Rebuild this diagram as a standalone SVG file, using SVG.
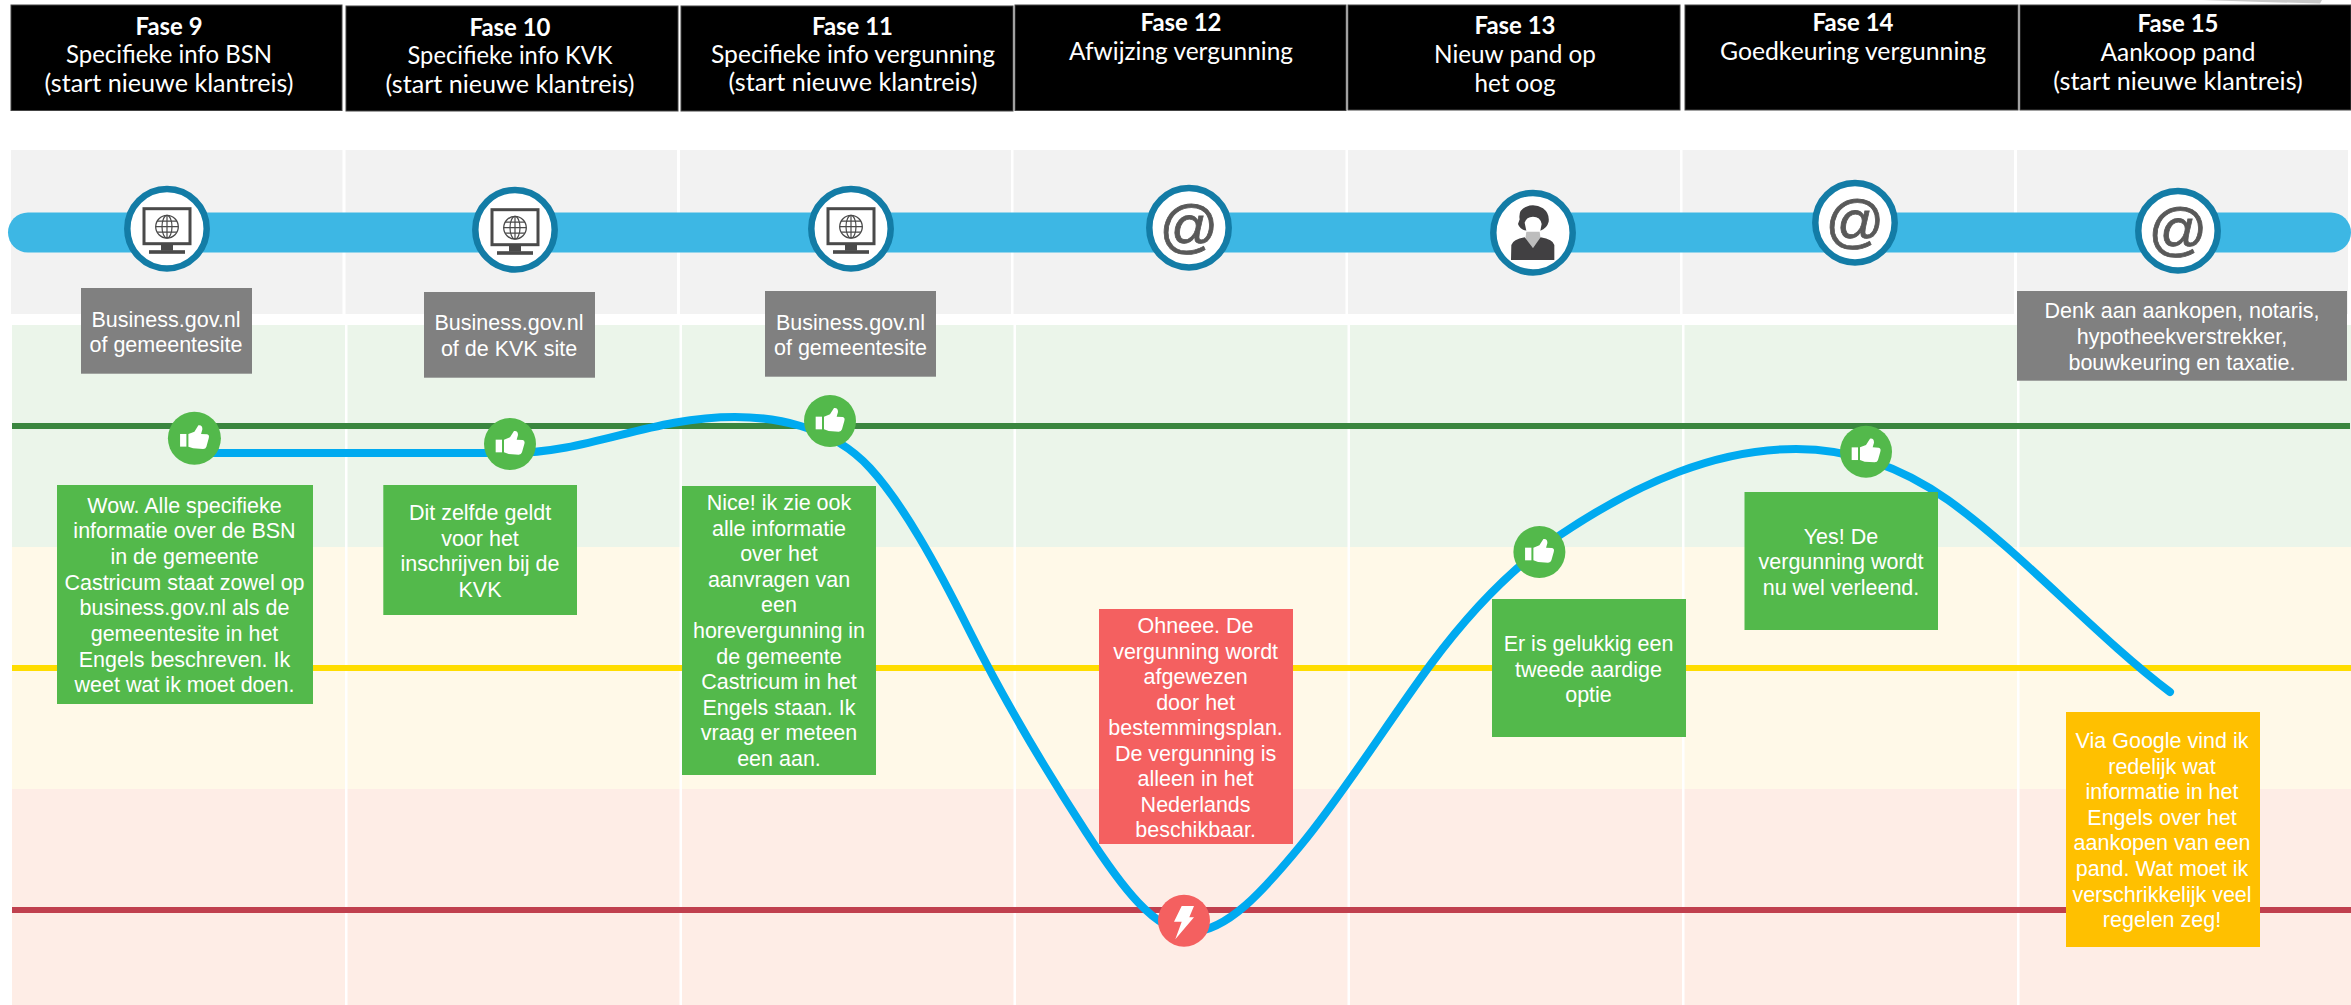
<svg xmlns="http://www.w3.org/2000/svg" xmlns:xlink="http://www.w3.org/1999/xlink" width="2351" height="1005" viewBox="0 0 2351 1005">
<style>
.hd{fill:#000;stroke:#444;stroke-width:1}
.ht{font-family:Lato,"Open Sans","Liberation Sans",sans-serif;font-size:24.5px;fill:#fff;text-anchor:middle}
.hb{font-weight:700}
.bt{font-family:"Liberation Sans",Arial,sans-serif;font-size:21.5px;fill:#fff;text-anchor:middle}
.at{font-family:"Liberation Sans",Arial,sans-serif;font-size:58px;fill:#595959;stroke:#595959;stroke-width:.8;text-anchor:middle}
.ring{fill:#fff;stroke:#137CA6;stroke-width:6.5}
.gb{fill:#808080}.gn{fill:#53B94B}.rd{fill:#F46060}.or{fill:#FFC000}
.div{fill:#fff}
</style>
<defs>
<g id="monitor">
<rect x="-23" y="-20" width="46" height="35" fill="#fff" stroke="#4A4A4A" stroke-width="3"/>
<circle cx="0" cy="-2" r="11.3" fill="none" stroke="#4A4A4A" stroke-width="1.3"/>
<ellipse cx="0" cy="-2" rx="5" ry="11.3" fill="none" stroke="#4A4A4A" stroke-width="1.2"/>
<path d="M0 -13.3V9.3M-11.3 -2H11.3M-9.8 -7.5H9.8M-9.8 3.5H9.8" fill="none" stroke="#4A4A4A" stroke-width="1.2"/>
<rect x="-6" y="16" width="12" height="6" fill="#4A4A4A"/>
<rect x="-18" y="21.5" width="36" height="3.6" fill="#4A4A4A"/>
</g>
<g id="thumb" transform="scale(.3333) translate(-134,-115)">
<rect x="91" y="102" width="19" height="38" fill="#fff"/>
<path d="M116 102L134 95L146 76Q158 74 158 88L154 102L172 103Q180 105 177 115L170 140Q168 147 160 147L130 145L116 140Z" fill="#fff"/>
</g>
</defs>

<g id="background">
<rect x="11" y="150" width="2337" height="164" fill="#F2F2F2"/>
<rect x="12" y="325" width="2339" height="222" fill="#EBF5EA"/>
<rect x="12" y="547" width="2339" height="242" fill="#FFF9E8"/>
<rect x="12" y="789" width="2339" height="216" fill="#FEEDE6"/>
<g class="div">
<rect x="342.500" y="150" width="3" height="164"/><rect x="677" y="150" width="3" height="164"/><rect x="1011" y="150" width="2.500" height="164"/><rect x="1345.500" y="150" width="2.500" height="164"/><rect x="1680" y="150" width="2.500" height="164"/><rect x="2014" y="150" width="3" height="164"/>
<rect x="345" y="325" width="2.500" height="680"/><rect x="679.500" y="325" width="2.500" height="680"/><rect x="1013.500" y="325" width="2.500" height="680"/><rect x="1347.500" y="325" width="2.500" height="680"/><rect x="1682" y="325" width="2.500" height="680"/><rect x="2017" y="325" width="2.500" height="680"/>
</g>
<path d="M2202 0L2322 0L2320 3.500L2262 2Z" fill="#C8C8C8"/>
<rect x="8" y="212.500" width="2343" height="40" rx="20" fill="#3DB7E4"/>
<rect x="12" y="423" width="2338" height="6" fill="#3A863F"/>
<rect x="12" y="665" width="2339" height="6" fill="#FFDD00"/>
<rect x="12" y="907" width="2339" height="6" fill="#C0404E"/>
</g>

<g id="connectors">
<path d="M195 453L510 453C590 453 650 417 735 417C770 417 830 424 870 468C903 504 936 564 969 630C1008 708 1047 772 1086 832C1121 886 1155 932 1190 932C1227 932 1264 890 1301 845C1344 793 1388 722 1431 664C1474 606 1517 564 1560 535C1639 482 1717 449 1796 449C1847 449 1897 464 1948 500C2022 553 2096 636 2170 692" fill="none" stroke="#00AAF0" stroke-width="8" stroke-linecap="round"/>
</g>

<g id="fase-9">
<rect class="hd" x="11" y="5" width="331" height="105.500"/>
<text class="ht hb" x="169" y="35" textLength="67" lengthAdjust="spacingAndGlyphs">Fase 9</text>
<text class="ht" x="169" y="63" textLength="206" lengthAdjust="spacingAndGlyphs">Specifieke info BSN</text>
<text class="ht" x="169" y="92" textLength="249" lengthAdjust="spacingAndGlyphs">(start nieuwe klantreis)</text>
<circle class="ring" cx="167" cy="228.700" r="39.700"/>
<use xlink:href="#monitor" href="#monitor" x="167" y="228.700"/>
<rect class="gb" x="81" y="288" width="171" height="85.700"/>
<text class="bt" x="166" y="327">Business.gov.nl</text>
<text class="bt" x="166" y="352">of gemeentesite</text>
<circle class="gn" cx="194.400" cy="438.300" r="26.500"/>
<use xlink:href="#thumb" href="#thumb" x="194.400" y="438.300"/>
<rect class="gn" x="57" y="485" width="256" height="219"/>
<text class="bt" x="184.500" y="512.600">Wow. Alle specifieke</text>
<text class="bt" x="184.500" y="538.300">informatie over de BSN</text>
<text class="bt" x="184.500" y="564">in de gemeente</text>
<text class="bt" x="184.500" y="589.700">Castricum staat zowel op</text>
<text class="bt" x="184.500" y="615.400">business.gov.nl als de</text>
<text class="bt" x="184.500" y="641">gemeentesite in het</text>
<text class="bt" x="184.500" y="666.700">Engels beschreven. Ik</text>
<text class="bt" x="184.500" y="692.400">weet wat ik moet doen.</text>
</g>

<g id="fase-10">
<rect class="hd" x="346" y="6" width="332" height="105"/>
<text class="ht hb" x="510" y="36" textLength="81" lengthAdjust="spacingAndGlyphs">Fase 10</text>
<text class="ht" x="510" y="64" textLength="205" lengthAdjust="spacingAndGlyphs">Specifieke info KVK</text>
<text class="ht" x="510" y="93" textLength="249" lengthAdjust="spacingAndGlyphs">(start nieuwe klantreis)</text>
<circle class="ring" cx="515" cy="229.700" r="39.700"/>
<use xlink:href="#monitor" href="#monitor" x="515" y="229.700"/>
<rect class="gb" x="424" y="292" width="171" height="85.700"/>
<text class="bt" x="509" y="330">Business.gov.nl</text>
<text class="bt" x="509" y="356">of de KVK site</text>
<circle class="gn" cx="510" cy="444" r="26"/>
<use xlink:href="#thumb" href="#thumb" x="510" y="444"/>
<rect class="gn" x="383.300" y="485" width="193.700" height="130"/>
<text class="bt" x="480" y="520">Dit zelfde geldt</text>
<text class="bt" x="480" y="545.700">voor het</text>
<text class="bt" x="480" y="571.300">inschrijven bij de</text>
<text class="bt" x="480" y="597">KVK</text>
</g>

<g id="fase-11">
<rect class="hd" x="681" y="6" width="332" height="105"/>
<text class="ht hb" x="852.500" y="34.500" textLength="81" lengthAdjust="spacingAndGlyphs">Fase 11</text>
<text class="ht" x="853" y="62.500" textLength="284" lengthAdjust="spacingAndGlyphs">Specifieke info vergunning</text>
<text class="ht" x="853" y="91" textLength="249" lengthAdjust="spacingAndGlyphs">(start nieuwe klantreis)</text>
<circle class="ring" cx="851" cy="228.700" r="39.700"/>
<use xlink:href="#monitor" href="#monitor" x="851" y="228.700"/>
<rect class="gb" x="765" y="291" width="171" height="85.700"/>
<text class="bt" x="850.500" y="330">Business.gov.nl</text>
<text class="bt" x="850.500" y="355">of gemeentesite</text>
<circle class="gn" cx="830" cy="421" r="26"/>
<use xlink:href="#thumb" href="#thumb" x="830" y="421"/>
<rect class="gn" x="682" y="486" width="194" height="289"/>
<text class="bt" x="779" y="510">Nice! ik zie ook</text>
<text class="bt" x="779" y="535.600">alle informatie</text>
<text class="bt" x="779" y="561.200">over het</text>
<text class="bt" x="779" y="586.800">aanvragen van</text>
<text class="bt" x="779" y="612.400">een</text>
<text class="bt" x="779" y="638">horevergunning in</text>
<text class="bt" x="779" y="663.600">de gemeente</text>
<text class="bt" x="779" y="689.200">Castricum in het</text>
<text class="bt" x="779" y="714.800">Engels staan. Ik</text>
<text class="bt" x="779" y="740.400">vraag er meteen</text>
<text class="bt" x="779" y="766">een aan.</text>
</g>

<g id="fase-12">
<rect class="hd" x="1015" y="5" width="331" height="105.500"/>
<text class="ht hb" x="1181" y="31" textLength="81" lengthAdjust="spacingAndGlyphs">Fase 12</text>
<text class="ht" x="1181" y="60" textLength="224" lengthAdjust="spacingAndGlyphs">Afwijzing vergunning</text>
<circle class="ring" cx="1189" cy="227.700" r="39.700"/>
<text class="at" x="1189" y="246">@</text>
<circle class="rd" cx="1184" cy="920.700" r="26"/>
<path d="M1181.700 906H1194L1189.300 917.300H1194L1175.300 939.300L1181.700 921.700H1174Z" fill="#fff"/>
<rect class="rd" x="1099" y="609" width="194" height="235"/>
<text class="bt" x="1195.600" y="633">Ohneee. De</text>
<text class="bt" x="1195.600" y="658.500">vergunning wordt</text>
<text class="bt" x="1195.600" y="684">afgewezen</text>
<text class="bt" x="1195.600" y="709.500">door het</text>
<text class="bt" x="1195.600" y="735">bestemmingsplan.</text>
<text class="bt" x="1195.600" y="760.500">De vergunning is</text>
<text class="bt" x="1195.600" y="786">alleen in het</text>
<text class="bt" x="1195.600" y="811.500">Nederlands</text>
<text class="bt" x="1195.600" y="837">beschikbaar.</text>
</g>

<g id="fase-13">
<rect class="hd" x="1348" y="5" width="332" height="105"/>
<text class="ht hb" x="1515" y="34" textLength="81" lengthAdjust="spacingAndGlyphs">Fase 13</text>
<text class="ht" x="1515" y="63" textLength="162" lengthAdjust="spacingAndGlyphs">Nieuw pand op</text>
<text class="ht" x="1515" y="92" textLength="81" lengthAdjust="spacingAndGlyphs">het oog</text>
<circle class="ring" cx="1533" cy="232.700" r="39.700"/>
<g transform="translate(1533 232.700) scale(.3333) translate(-190 -158)">
<path d="M150 118Q145 90 170 80Q195 70 220 85Q240 100 237 125Q232 145 212 152L216 132Q212 110 190 110Q170 110 165 128L170 152Q150 148 145 132Z" fill="#414042"/>
<path d="M170 155L210 155L213 176L190 204L167 176Z" fill="#BDBDBD"/>
<path d="M125 195Q130 178 165 172L190 204L213 172Q250 178 254 195L254 240L124 240Z" fill="#414042"/>
</g>
<circle class="gn" cx="1539.400" cy="552" r="26"/>
<use xlink:href="#thumb" href="#thumb" x="1539.400" y="552"/>
<rect class="gn" x="1492" y="599" width="194" height="138"/>
<text class="bt" x="1588.500" y="651">Er is gelukkig een</text>
<text class="bt" x="1588.500" y="676.500">tweede aardige</text>
<text class="bt" x="1588.500" y="702">optie</text>
</g>

<g id="fase-14">
<rect class="hd" x="1685" y="5" width="333" height="105"/>
<text class="ht hb" x="1853" y="31" textLength="81" lengthAdjust="spacingAndGlyphs">Fase 14</text>
<text class="ht" x="1853" y="60" textLength="266" lengthAdjust="spacingAndGlyphs">Goedkeuring vergunning</text>
<circle class="ring" cx="1855" cy="222.700" r="39.700"/>
<text class="at" x="1855" y="241">@</text>
<circle class="gn" cx="1866" cy="451.700" r="26"/>
<use xlink:href="#thumb" href="#thumb" x="1866" y="451.700"/>
<rect class="gn" x="1744.500" y="492" width="193.500" height="138"/>
<text class="bt" x="1841" y="543.700">Yes! De</text>
<text class="bt" x="1841" y="569.300">vergunning wordt</text>
<text class="bt" x="1841" y="595">nu wel verleend.</text>
</g>

<g id="fase-15">
<rect class="hd" x="2020" y="5" width="331" height="105"/>
<text class="ht hb" x="2178" y="32" textLength="81" lengthAdjust="spacingAndGlyphs">Fase 15</text>
<text class="ht" x="2178" y="61" textLength="155" lengthAdjust="spacingAndGlyphs">Aankoop pand</text>
<text class="ht" x="2178" y="90" textLength="249.500" lengthAdjust="spacingAndGlyphs">(start nieuwe klantreis)</text>
<circle class="ring" cx="2178" cy="230.700" r="39.700"/>
<text class="at" x="2178" y="249">@</text>
<rect class="gb" x="2017" y="291" width="330" height="89.700"/>
<text class="bt" x="2182" y="318">Denk aan aankopen, notaris,</text>
<text class="bt" x="2182" y="344">hypotheekverstrekker,</text>
<text class="bt" x="2182" y="370">bouwkeuring en taxatie.</text>
<rect class="or" x="2066" y="712" width="194" height="235"/>
<text class="bt" x="2162" y="748">Via Google vind ik</text>
<text class="bt" x="2162" y="773.600">redelijk wat</text>
<text class="bt" x="2162" y="799.200">informatie in het</text>
<text class="bt" x="2162" y="824.800">Engels over het</text>
<text class="bt" x="2162" y="850.400">aankopen van een</text>
<text class="bt" x="2162" y="876">pand. Wat moet ik</text>
<text class="bt" x="2162" y="901.600">verschrikkelijk veel</text>
<text class="bt" x="2162" y="927">regelen zeg!</text>
</g>
</svg>
